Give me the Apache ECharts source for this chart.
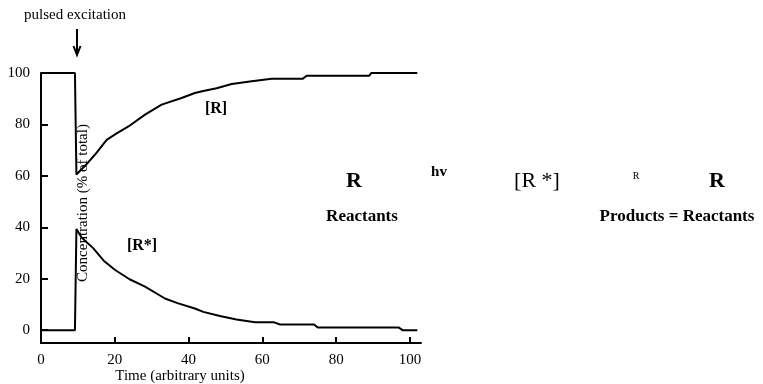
<!DOCTYPE html>
<html>
<head>
<meta charset="utf-8">
<script src="https://cdn.jsdelivr.net/npm/echarts@6/dist/echarts.min.js"></script>
<style>
  html, body { margin: 0; padding: 0; background: #fff; }
  #chart { width: 763px; height: 384px; }
</style>
</head>
<body>
<div id="chart"></div>
<script>
// [R] (reactant) concentration
const rTime  = [0, 9.2, 9.6, 12, 14.6, 17.8, 20.5, 23.7, 28.2, 32.7, 38.1, 41.7, 44, 47.6, 51.7, 56.6, 62.5, 71, 72, 89, 89.5, 102];
const rValue = [100, 100, 60.5, 64, 68.2, 74, 76.5, 79.2, 83.8, 87.7, 90.3, 92.2, 93, 94.1, 95.7, 96.7, 97.8, 97.8, 98.9, 98.9, 100, 100];

// [R*] (excited state) concentration
const rsTime  = [0, 9.2, 9.6, 11, 14.2, 17, 20.1, 24, 28.2, 33.6, 37, 41.7, 44, 48.5, 53, 58, 63, 64.8, 74, 75, 97, 98, 102];
const rsValue = [0, 0, 39.3, 36, 31.8, 27, 23.4, 19.8, 16.9, 12.3, 10.5, 8.4, 7.1, 5.5, 4.1, 3.1, 3.1, 2.2, 2.2, 1, 1, 0, 0];

const xTicks = [0, 20, 40, 60, 80, 100];
const yTicks = [0, 20, 40, 60, 80, 100];

const serif = "'Liberation Serif', 'DejaVu Serif', serif";

function pairs(xs, ys) {
  return xs.map((x, i) => [x, ys[i]]);
}

function label(x, y, text, font, extra) {
  return Object.assign({
    type: 'text', x: x, y: y,
    style: { text: text, font: font + ' ' + serif, fill: '#000', align: 'center', verticalAlign: 'middle' }
  }, extra || {});
}

let chart = echarts.init(document.getElementById('chart'));
let option = {
  animation: false,
  backgroundColor: '#fff',
  textStyle: { fontFamily: serif, color: '#000' },
  grid: { left: 41, right: 342, top: 73, bottom: 41 },
  xAxis: {
    type: 'value',
    min: 0,
    max: 103,
    axisLine: { onZero: false, lineStyle: { color: '#000', width: 2 } },
    axisTick: { inside: true, length: 6, customValues: xTicks, lineStyle: { color: '#000', width: 2 } },
    axisLabel: { customValues: xTicks, color: '#000', fontSize: 15, fontFamily: serif, margin: 10 },
    splitLine: { show: false }
  },
  yAxis: {
    type: 'value',
    min: -5,
    max: 100,
    axisLine: { onZero: false, lineStyle: { color: '#000', width: 2 } },
    axisTick: { inside: true, length: 7, customValues: yTicks, lineStyle: { color: '#000', width: 2 } },
    axisLabel: { customValues: yTicks, color: '#000', fontSize: 15, fontFamily: serif, margin: 11 },
    splitLine: { show: false }
  },
  series: [
    {
      name: '[R]',
      type: 'line',
      data: pairs(rTime, rValue),
      showSymbol: false,
      lineStyle: { color: '#000', width: 2 }
    },
    {
      name: '[R*]',
      type: 'line',
      data: pairs(rsTime, rsValue),
      showSymbol: false,
      lineStyle: { color: '#000', width: 2 }
    }
  ],
  graphic: [
    // axis titles
    label(180, 376, 'Time (arbitrary units)', '15px'),
    label(83, 203, 'Concentration (% of total)', '15px', { rotation: Math.PI / 2 }),
    // pulse annotation
    label(75, 15, 'pulsed excitation', '15px'),
    { type: 'line', shape: { x1: 77, y1: 29, x2: 77, y2: 54 }, style: { stroke: '#000', lineWidth: 2 } },
    { type: 'polyline', shape: { points: [[73.5, 46], [77, 55], [80.5, 46]] }, style: { stroke: '#000', lineWidth: 2, fill: null } },
    // curve labels
    label(216, 109, '[R]', 'bold 16px'),
    label(142, 246, '[R*]', 'bold 16px'),
    // reaction scheme
    label(354, 181, 'R', 'bold 22px'),
    label(439, 172, 'hv', 'bold 15px'),
    label(537, 181, '[R *]', '22px'),
    label(636, 176, 'R', '10px'),
    label(717, 181, 'R', 'bold 22px'),
    label(362, 217, 'Reactants', 'bold 17px'),
    label(677, 217, 'Products = Reactants', 'bold 17px')
  ]
};
chart.setOption(option);
window.onresize = chart.resize;
</script>
</body>
</html>
